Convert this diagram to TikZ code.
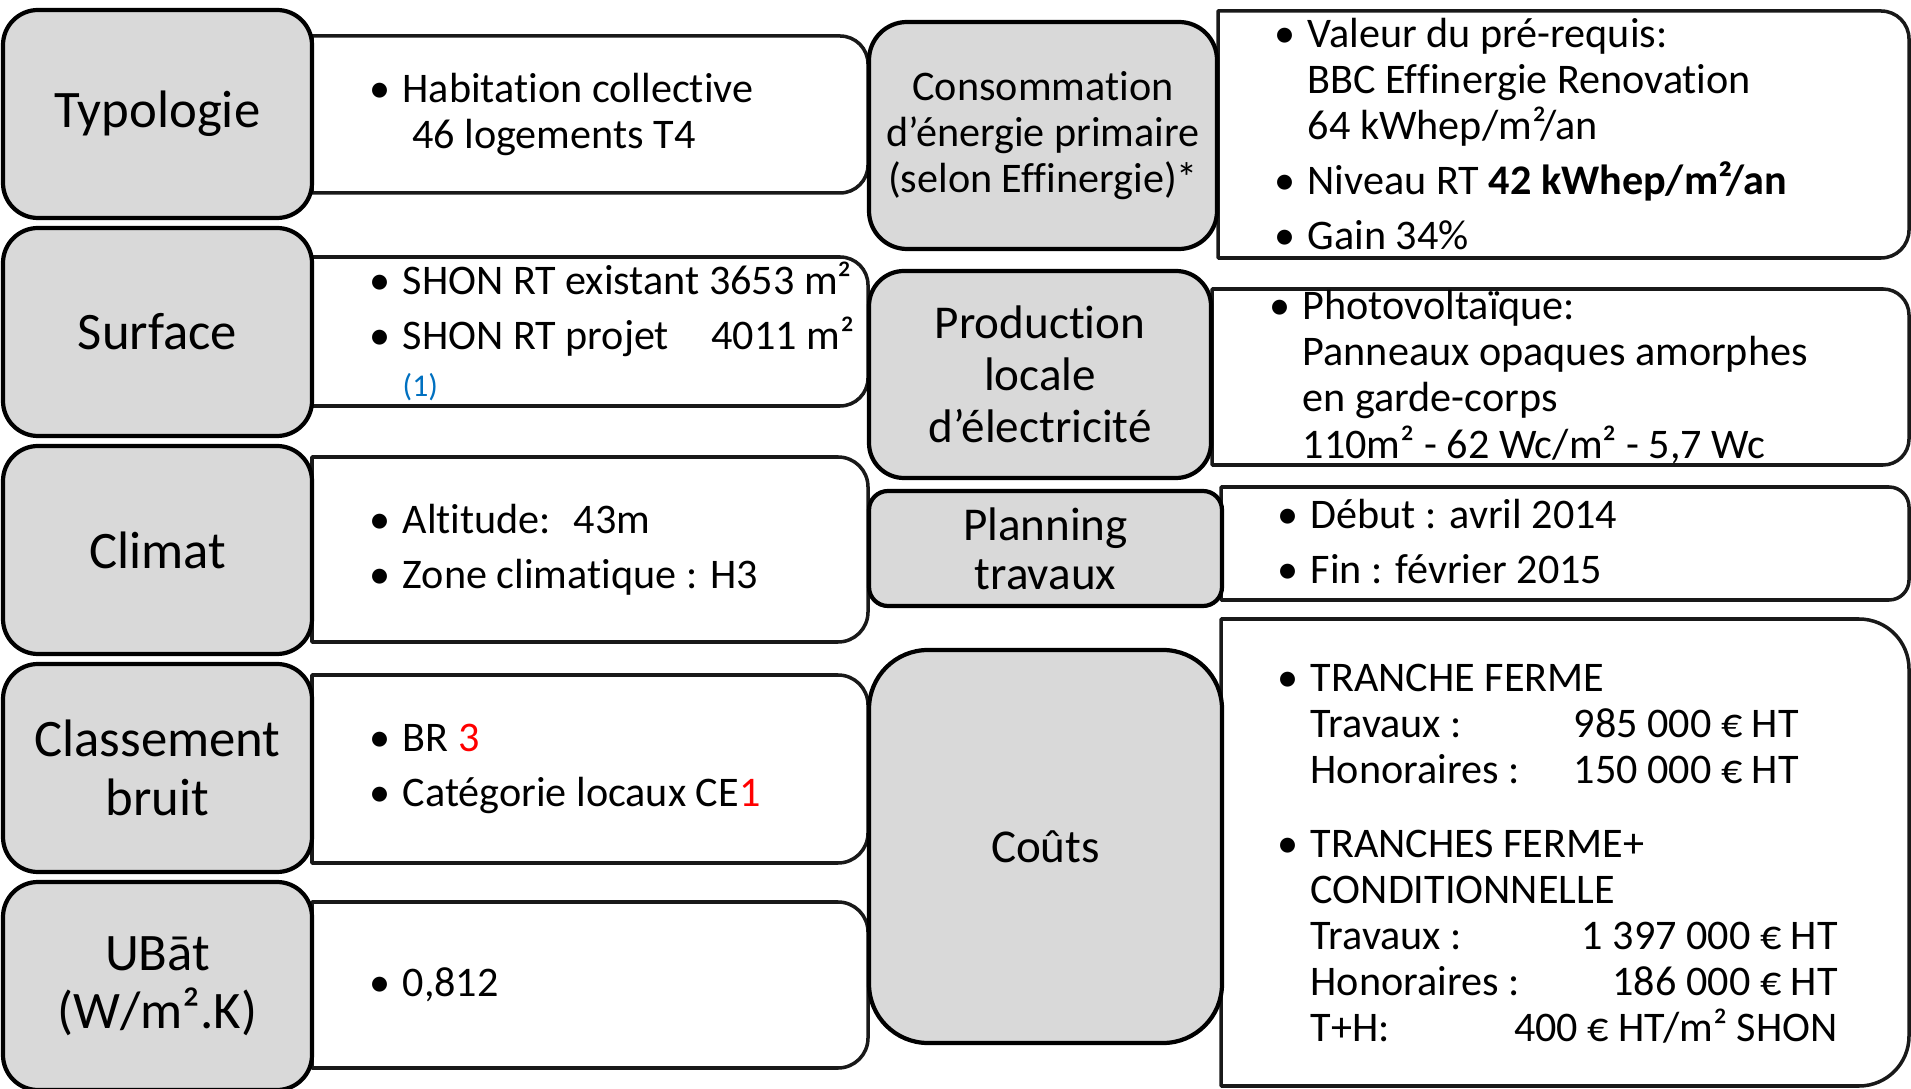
\documentclass[tikz,border=0pt]{standalone}
\usepackage{fontspec}
\setmainfont{Carlito}[Ligatures=NoCommon]
\usepackage{tikz}
\usetikzlibrary{positioning,calc}

\definecolor{titlegray}{HTML}{D9D9D9}
\definecolor{notered}{HTML}{FF0000}
\definecolor{noteblue}{HTML}{0070C0}
\newcommand{\puce}{\makebox[0.33cm][l]{\textbullet}}
\newcommand{\sanspuce}{\hspace*{0.33cm}}

\begin{document}
\begin{tikzpicture}[
    titlebox/.style={rectangle, draw=black, line width=1.2pt, fill=titlegray, align=center, inner sep=0pt, rounded corners=0.35cm, font=\fontsize{15}{16.6}\selectfont},
    infobox/.style={draw=black!90, line width=1pt, line join=round},
    infotext/.style={anchor=west, align=left, inner sep=0pt, font=\fontsize{12}{13.1}\selectfont}
]
\useasboundingbox (0,0) rectangle (19.11,-10.89);

% cadres de texte (coins arrondis a droite)
\foreach \xa/\xb/\ya/\yb/\r in {3.12/8.68/0.36/1.93/0.28, 3.12/8.68/2.57/4.06/0.28, 3.12/8.68/4.57/6.42/0.3, 3.12/8.68/6.75/8.63/0.3, 3.12/8.68/9.02/10.68/0.3,
    12.18/19.09/0.11/2.58/0.28, 12.12/19.09/2.89/4.65/0.26, 12.21/19.09/4.87/6.00/0.2, 12.21/19.09/6.19/10.86/0.5}
  \draw[infobox] (\xa,-\yb) -- (\xa,-\ya) -- (\xb-\r,-\ya) arc[start angle=90, end angle=0, radius=\r]
    -- (\xb,-\yb+\r) arc[start angle=0, end angle=-90, radius=\r] -- cycle;

% colonne gauche
\node[titlebox, minimum width=3.09cm, minimum height=2.08cm] (typologie) at (1.575,-1.14) {Typologie};
\node[titlebox, minimum width=3.09cm, minimum height=2.08cm] (surface) at (1.575,-3.32) {Surface};
\node[titlebox, minimum width=3.09cm, minimum height=2.08cm] (climat) at (1.575,-5.50) {Climat};
\node[titlebox, minimum width=3.09cm, minimum height=2.08cm] (bruit) at (1.575,-7.68) {Classement\\bruit};
\node[titlebox, minimum width=3.09cm, minimum height=2.08cm] (ubat) at (1.575,-9.86) {UBāt\\(W/m².K)};

\node[infotext] (typologie-txt) at (3.69,-1.145) {\puce Habitation collective\\\sanspuce\ 46 logements T4};
\node[infotext] (surface-txt) at (3.69,-3.315) {\puce SHON RT existant 3653 m²\\[2.5pt]\puce SHON RT projet\hspace{0.33cm} 4011 m²\\[0.5pt]\sanspuce{\fontsize{9}{10}\selectfont\color{noteblue}(1)}};
\node[infotext] (climat-txt) at (3.69,-5.495) {\puce Altitude:\hspace{0.1cm} 43m\\[2.5pt]\puce Zone climatique : H3};
\node[infotext] (bruit-txt) at (3.69,-7.69) {\puce BR {\color{notered}3}\\[2.5pt]\puce Catégorie locaux CE{\color{notered}1}};
\node[infotext] (ubat-txt) at (3.69,-9.85) {\puce 0,812};

% colonne droite
\node[titlebox, minimum width=3.48cm, minimum height=2.27cm, rounded corners=0.38cm, font=\fontsize{12}{13.1}\selectfont] (conso) at (10.43,-1.355) {Consommation\\d’énergie primaire\\(selon Effinergie)*};
\node[titlebox, minimum width=3.42cm, minimum height=2.07cm, font=\fontsize{13.4}{14.8}\selectfont] (production) at (10.40,-3.745) {Production\\locale\\d’électricité};
\node[titlebox, minimum width=3.53cm, minimum height=1.15cm, rounded corners=0.19cm, font=\fontsize{13.4}{13.9}\selectfont] (planning) at (10.455,-5.485) {Planning\\travaux};
\node[titlebox, minimum width=3.53cm, minimum height=3.93cm, rounded corners=0.59cm, font=\fontsize{13.4}{14.8}\selectfont] (couts) at (10.455,-8.465) {Coûts};

\node[infotext] (conso-txt) at (12.74,-1.34) {\puce Valeur du pré-requis:\\\sanspuce BBC Effinergie Renovation\\\sanspuce 64 kWhep/m²/an\\[2.5pt]\puce Niveau RT \textbf{42 kWhep/m²/an}\\[2.5pt]\puce Gain 34\%};
\node[infotext] (production-txt) at (12.69,-3.77) {\puce Photovoltaïque:\\\sanspuce Panneaux opaques amorphes\\\sanspuce en garde-corps\\\sanspuce 110m² - 62 Wc/m² - 5,7 Wc};
\node[infotext] (planning-txt) at (12.77,-5.415) {\puce Début : avril 2014\\[2.5pt]\puce Fin : février 2015};
\node[infotext] (couts-txt) at (12.77,-8.54) {\puce TRANCHE FERME\\
    \sanspuce\makebox[2.61cm][l]{Travaux :}\makebox[2.27cm][r]{985 000 € HT}\\
    \sanspuce\makebox[2.61cm][l]{Honoraires :}\makebox[2.27cm][r]{150 000 € HT}\\[8pt]
    \puce TRANCHES FERME+\\
    \sanspuce CONDITIONNELLE\\
    \sanspuce\makebox[2.61cm][l]{Travaux :}\makebox[2.66cm][r]{1 397 000 € HT}\\
    \sanspuce\makebox[2.61cm][l]{Honoraires :}\makebox[2.66cm][r]{186 000 € HT}\\
    \sanspuce\makebox[2.61cm][l]{T+H:}\makebox[2.66cm][r]{400 € HT/m² SHON}};

\end{tikzpicture}
\end{document}
